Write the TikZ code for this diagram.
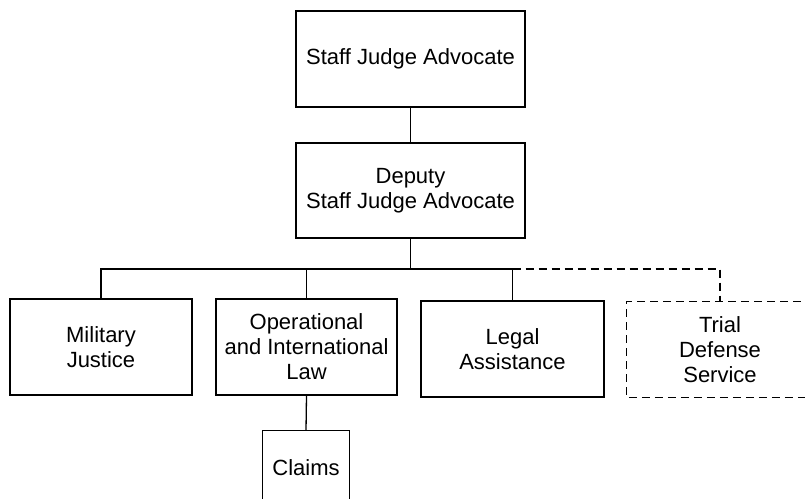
\documentclass[tikz,border=0pt]{standalone}
\usepackage{fontspec}
\setmainfont{Liberation Sans}
\begin{document}
\begin{tikzpicture}[x=1pt,y=-1pt,
  box/.style={draw,line width=1.3pt,align=center,inner sep=0pt,
    font=\fontsize{22}{25}\selectfont},
  conn/.style={line width=1.3pt},
  dconn/.style={line width=1.3pt,dash pattern=on 8pt off 5pt}]
\useasboundingbox (0,0) rectangle (805,498);
\clip (0,0) rectangle (805,498);
\node[box,minimum width=229pt,minimum height=96pt] (sja) at (410.5,59) {Staff Judge Advocate};
\node[box,minimum width=229pt,minimum height=95pt] (dep) at (410.5,190.5) {Deputy\\Staff Judge Advocate};
\node[box,minimum width=182pt,minimum height=96pt] (mj) at (101,347) {Military\\Justice};
\node[box,minimum width=181pt,minimum height=96pt] (op) at (306.5,347) {Operational\\and International\\Law};
\node[box,minimum width=183pt,minimum height=96pt] (legal) at (512.5,349) {Legal\\Assistance};
\node[box,draw=none,minimum width=186pt,minimum height=95pt] (trial) at (720,349.5) {Trial\\Defense\\Service};
\draw[dconn] (trial.north east) -- (trial.north west) -- (trial.south west) -- (trial.south east);
\node[box,draw=none,minimum width=86pt,minimum height=74pt] (claims) at (306,468) {Claims};
\draw[conn] (claims.south west) ++(0,30) -- (claims.north west) -- (claims.north east) -- ++(0,100);
\coordinate (bus) at (410.5,269);
\draw[conn] (sja) -- (dep);
\draw[conn] (dep.south) -- (bus);
\draw[conn] (mj.north) |- (bus) -| (legal.north);
\draw[conn] (op.north) -- (op.north |- bus);
\draw[dconn] (legal.north |- bus) -| (trial.north);
\draw[conn] (op.south) -- (claims.north);
\end{tikzpicture}
\end{document}
